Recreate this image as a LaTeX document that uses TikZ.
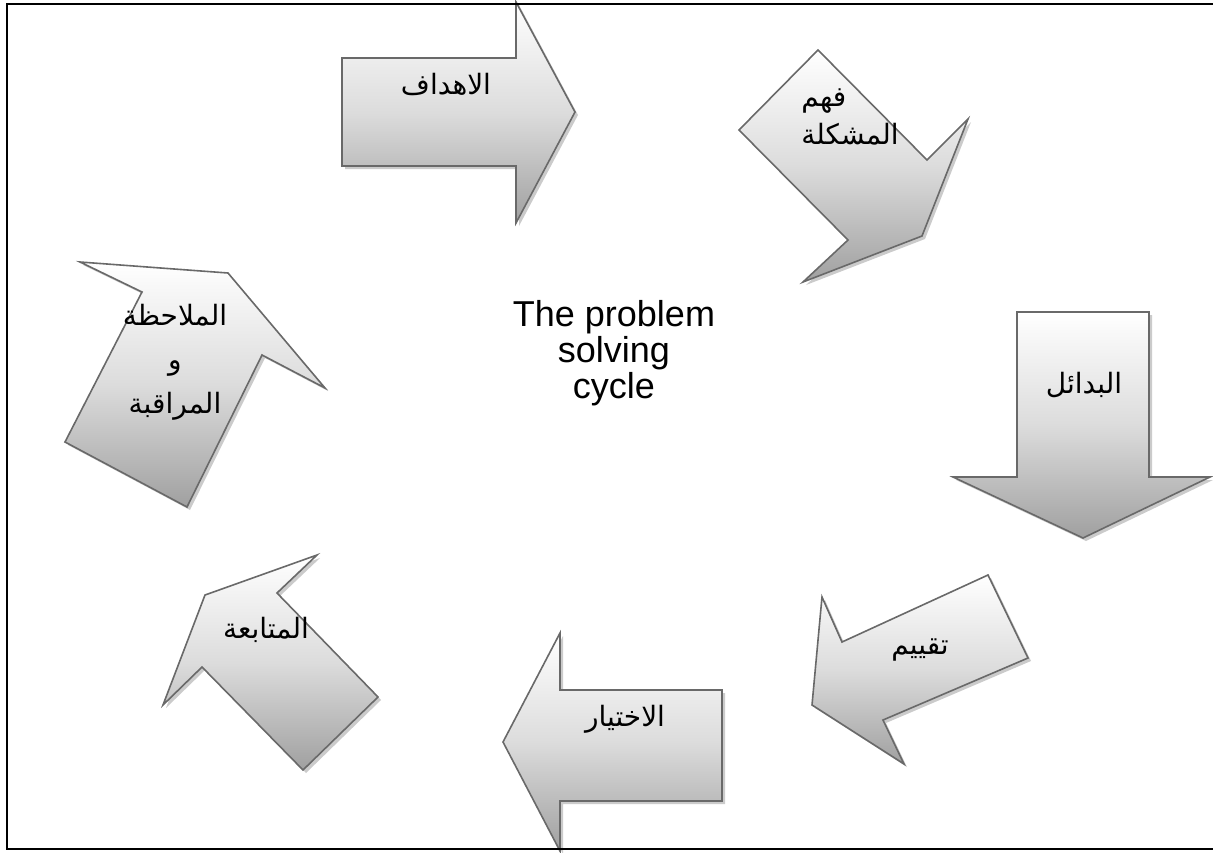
\documentclass[tikz,border=0pt]{standalone}
\usepackage{fontspec}
\setmainfont{Liberation Sans}
\newfontfamily\arabicfont[Script=Arabic]{DejaVu Sans}
\TeXXeTstate=1
\definecolor{edgegray}{RGB}{105,105,105}
\definecolor{shadegray}{RGB}{160,160,160}
\definecolor{midgray}{RGB}{220,220,220}
\definecolor{dropgray}{RGB}{190,190,190}
% one block arrow: a soft drop shadow, then the shaded outline on top
\newcommand\blockarrow[1]{%
  \fill[dropshadow, shift={(3,3)}] #1;
  \path[arrowbody] #1;
}
\begin{document}
\begin{tikzpicture}[x=1pt, y=-1pt,
  arrowbody/.style={draw=edgegray, line width=1.6pt, line join=miter,
    top color=white, bottom color=shadegray, middle color=midgray},
  dropshadow/.style={fill=dropgray, opacity=0.8},
  lbl/.style={font=\arabicfont\fontsize{28}{38}\selectfont, text=black,
    inner sep=0pt, align=center},
  title/.style={font=\fontsize{36}{36}\selectfont, text=black,
    inner sep=0pt, align=center}]
\useasboundingbox (0,0) rectangle (1213,852);

% the seven steps of the cycle, clockwise from the top
\blockarrow{(342,58) -- (516,58) -- (516,2) -- (575,112) -- (516,223) -- (516,166) -- (342,166) -- cycle}
\blockarrow{(818,50) -- (927,160) -- (968,119) -- (922,236) -- (803,282) -- (848,240) -- (739,130) -- cycle}
\blockarrow{(1017,312) -- (1149,312) -- (1149,477) -- (1210,477) -- (1083,538) -- (953,477) -- (1017,477) -- cycle}
\blockarrow{(988,575) -- (1028,658) -- (883,720) -- (904,764) -- (812,705) -- (822,597) -- (842,642) -- cycle}
\blockarrow{(722,690) -- (722,801) -- (560,801) -- (560,851) -- (503,742) -- (560,633) -- (560,690) -- cycle}
\blockarrow{(378,697) -- (303,770) -- (202,667) -- (163,705) -- (205,595) -- (317,555) -- (277,593) -- cycle}
\blockarrow{(65,442) -- (187,507) -- (262,355) -- (325,388) -- (228,273) -- (80,262) -- (142,292) -- cycle}

% step labels
\node[lbl] (goals)    at (446,84)  {\beginR الاهداف\endR};
\node[lbl, align=left] (problem)  at (850,117) {\beginR فهم\endR\\\beginR المشكلة\endR};
\node[lbl] (options)  at (1084,385) {\beginR البدائل\endR};
\node[lbl] (assess)   at (920,650) {\beginR تقييم\endR};
\node[lbl] (choice)   at (625,719) {\beginR الاختيار\endR};
\node[lbl] (follow)   at (266,630) {\beginR المتابعة\endR};
\node[lbl, font=\arabicfont\fontsize{28}{44}\selectfont]
  (observe)  at (175,362) {\beginR الملاحظة\endR\\\beginR و\endR\\\beginR المراقبة\endR};

% title in the middle of the cycle
\node[title] (cycle) at (614,353) {The problem\\solving\\cycle};

% page frame
\draw[line width=2.2pt, black] (1225,4) -- (7,4) -- (7,849) -- (1225,849);
\end{tikzpicture}
\end{document}
